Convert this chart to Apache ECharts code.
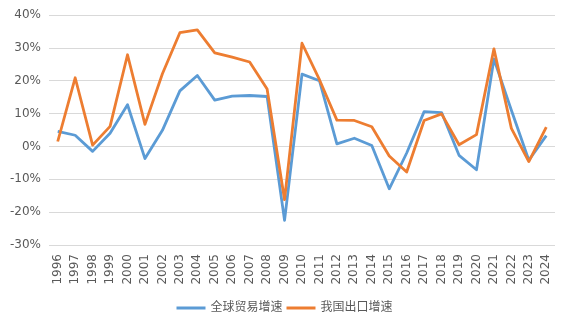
<!DOCTYPE html>
<html>
<head>
<meta charset="utf-8">
<script src="https://cdn.jsdelivr.net/npm/echarts@6/dist/echarts.min.js"></script>
<style>
  html, body { margin: 0; padding: 0; background: #fff; }
  #chart { width: 569px; height: 327px; }
</style>
</head>
<body>
<div id="chart"></div>
<script>
// Years on the category axis
const years = ['1996','1997','1998','1999','2000','2001','2002','2003','2004','2005',
  '2006','2007','2008','2009','2010','2011','2012','2013','2014','2015',
  '2016','2017','2018','2019','2020','2021','2022','2023','2024'];

// Global trade growth (%)
const globalTrade = [4.6, 3.4, -1.5, 4.0, 12.7, -3.7, 4.9, 16.9, 21.6, 14.1,
  15.3, 15.5, 15.2, -22.5, 22.0, 20.0, 0.8, 2.5, 0.3, -12.9,
  -2.0, 10.6, 10.3, -2.7, -7.1, 26.6, 11.0, -4.2, 3.3];

// China export growth (%)
const chinaExport = [1.5, 20.9, 0.4, 6.1, 27.9, 6.7, 22.1, 34.6, 35.5, 28.5,
  27.2, 25.7, 17.5, -16.2, 31.4, 20.3, 8.0, 7.9, 6.0, -2.9,
  -7.8, 7.9, 9.9, 0.5, 3.6, 29.7, 5.5, -4.6, 5.9];

const seriesNames = ['全球贸易增速', '我国出口增速'];
const seriesColors = ['#5B9BD5', '#ED7D31'];

const chart = echarts.init(document.getElementById('chart'), null, { renderer: 'canvas' });

const textColor = '#595959';
const fontFamily = '"DejaVu Sans", "Noto Sans CJK SC", sans-serif';

chart.setOption({
  animation: false,
  color: seriesColors,
  grid: { left: 49, right: 14, top: 15, bottom: 82, containLabel: false },
  legend: {
    bottom: 8,
    left: 'center',
    itemWidth: 29,
    itemHeight: 3,
    itemGap: 4,
    icon: 'rect',
    textStyle: { color: textColor, fontSize: 12, fontFamily: fontFamily },
    data: seriesNames
  },
  xAxis: {
    type: 'category',
    data: years,
    boundaryGap: true,
    axisLine: { show: false },
    axisTick: { show: false },
    axisLabel: {
      rotate: 90,
      interval: 0,
      margin: 9,
      color: textColor,
      fontSize: 12,
      fontFamily: fontFamily
    }
  },
  yAxis: {
    type: 'value',
    min: -30,
    max: 40,
    interval: 10,
    axisLine: { show: false },
    axisTick: { show: false },
    axisLabel: {
      formatter: '{value}%',
      margin: 8,
      color: textColor,
      fontSize: 12,
      fontFamily: fontFamily
    },
    splitLine: { lineStyle: { color: '#D9D9D9', width: 1 } }
  },
  series: [
    {
      name: seriesNames[0],
      type: 'line',
      data: globalTrade,
      symbol: 'none',
      lineStyle: { width: 2.8, color: seriesColors[0], join: 'round' },
      z: 2
    },
    {
      name: seriesNames[1],
      type: 'line',
      data: chinaExport,
      symbol: 'none',
      lineStyle: { width: 2.8, color: seriesColors[1], join: 'round' },
      z: 3
    }
  ]
});
</script>
</body>
</html>
